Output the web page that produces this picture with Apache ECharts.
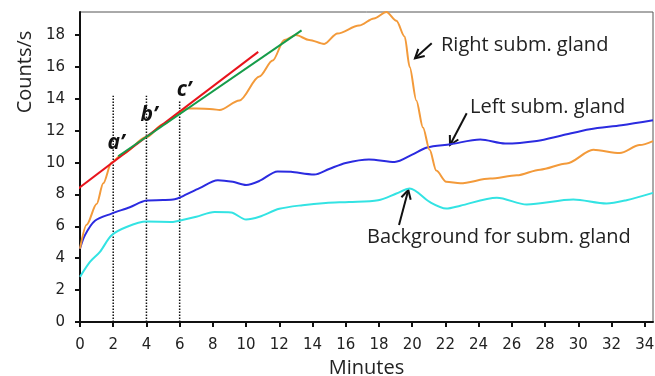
<!DOCTYPE html>
<html>
<head>
<meta charset="utf-8">
<script src="https://cdn.jsdelivr.net/npm/echarts@6/dist/echarts.min.js"></script>
<style>
  html, body { margin: 0; padding: 0; background: #fff; }
  #chart { width: 655px; height: 376px; }
</style>
</head>
<body>
<div id="chart"></div>
<script>
// counts/s against minutes as [min, value]
const rightGland = [
  [0, 4.6], [0.4, 6.1], [1.0, 7.4], [1.4, 8.7], [1.9, 10.0], [2.5, 10.5], [4, 11.6],
  [5, 12.4], [6, 13.1], [6.4, 13.4], [7, 13.4], [8, 13.35], [8.4, 13.3], [9.6, 13.9],
  [10.8, 15.4], [11.6, 16.4], [12.3, 17.7], [13.0, 18.0], [13.8, 17.7], [14.7, 17.45],
  [15.5, 18.1], [16.8, 18.6], [17.7, 19.05], [18.45, 19.45], [19.05, 18.9], [19.55, 17.9],
  [19.85, 16.0], [20.25, 13.9], [20.65, 12.2], [21.05, 10.8], [21.45, 9.5], [22.05, 8.8],
  [22.9, 8.7], [24.7, 9.0], [26.3, 9.2], [27.7, 9.56], [29.3, 9.95], [30.9, 10.8],
  [32.5, 10.6], [33.7, 11.1], [34.5, 11.35]
];
const leftGland = [
  [0, 4.6], [0.3, 5.45], [0.9, 6.35], [1.9, 6.8], [3, 7.2], [4, 7.62], [5, 7.65],
  [5.7, 7.7], [6.1, 7.85], [7.2, 8.4], [8.3, 8.9], [9.2, 8.8], [10, 8.6], [10.8, 8.85],
  [11.9, 9.45], [12.7, 9.42], [14.1, 9.25], [15, 9.6], [16, 9.98], [17.4, 10.2],
  [18.95, 10.04], [20, 10.5], [20.9, 10.95], [22.3, 11.15], [24.1, 11.45], [25.6, 11.2],
  [27.5, 11.36], [29, 11.7], [30.7, 12.1], [32.6, 12.35], [34.5, 12.66]
];
const background = [
  [0, 2.83], [0.6, 3.77], [1.2, 4.4], [1.9, 5.44], [2.8, 5.96], [4, 6.3], [5.6, 6.28],
  [6.1, 6.38], [7, 6.6], [8.1, 6.9], [9.1, 6.87], [10, 6.43], [10.8, 6.6], [12, 7.1],
  [13.4, 7.33], [14.8, 7.47], [16.2, 7.53], [17.95, 7.64], [19.05, 8.06], [19.85, 8.37],
  [21.05, 7.53], [22.05, 7.12], [22.9, 7.3], [25.1, 7.8], [26.9, 7.37], [29.7, 7.68],
  [31.7, 7.43], [32.9, 7.64], [34.5, 8.1]
];
// fitted slopes
const redFit = [[-0.15, 8.33], [10.73, 16.95]];
const greenFit = [[2.3, 10.4], [13.34, 18.3]];
// dotted markers a', b', c'
const markTimes = [2, 4, 6];
const markTops = [14.2, 14.2, 13.9];

const chart = echarts.init(document.getElementById("chart"));

// small open arrow: line plus a chevron at the tip
function arrow(x1, y1, x2, y2) {
  const a = Math.atan2(y2 - y1, x2 - x1);
  const len = 10;
  const sp = 0.5;
  const p1 = [x2 - len * Math.cos(a - sp), y2 - len * Math.sin(a - sp)];
  const p2 = [x2 - len * Math.cos(a + sp), y2 - len * Math.sin(a + sp)];
  return [
    { type: "line", shape: { x1: x1, y1: y1, x2: x2, y2: y2 }, style: { stroke: "#111", lineWidth: 2 } },
    { type: "polyline", shape: { points: [p1, [x2, y2], p2] }, style: { stroke: "#111", lineWidth: 2, fill: null } },
  ];
}

const labelFont = "'Open Sans', sans-serif";
const tickStyle = { color: "#222", fontFamily: "'DejaVu Sans', sans-serif", fontSize: 15 };

const dotSeries = markTimes.map((t, i) => ({
  type: "line",
  data: [[t, 0], [t, markTops[i]]],
  showSymbol: false,
  silent: true,
  lineStyle: { color: "#111", width: 1.5, type: [1.5, 1.5] },
  z: 1,
}));

const option = {
  animation: false,
  grid: {
    left: 80, right: 2, top: 12, bottom: 54,
    outerBoundsMode: "none",
    show: true, borderColor: "#555", borderWidth: 1,
  },
  xAxis: {
    type: "value",
    min: 0, max: 34.5, interval: 2,
    name: "Minutes",
    nameLocation: "middle",
    nameGap: 33,
    nameTextStyle: { fontFamily: labelFont, fontSize: 20, color: "#222" },
    axisLine: { show: true, lineStyle: { color: "#111", width: 2 } },
    axisTick: { show: true, length: 5, lineStyle: { color: "#111", width: 2 } },
    axisLabel: { ...tickStyle, margin: 16, showMaxLabel: false },
    splitLine: { show: false },
  },
  yAxis: {
    type: "value",
    min: 0, max: 19.45, interval: 2,
    axisLine: { show: true, lineStyle: { color: "#111", width: 2 } },
    axisTick: { show: true, length: 5, lineStyle: { color: "#111", width: 2 } },
    axisLabel: { ...tickStyle, margin: 15, showMaxLabel: false },
    splitLine: { show: false },
  },
  series: [
    ...dotSeries,
    {
      name: "Background for subm. gland",
      type: "line",
      data: background,
      showSymbol: false,
      smooth: 0.3,
      lineStyle: { color: "#33e3e3", width: 2 },
      z: 3,
    },
    {
      name: "Left subm. gland",
      type: "line",
      data: leftGland,
      showSymbol: false,
      smooth: 0.3,
      lineStyle: { color: "#2b2be0", width: 2 },
      z: 3,
    },
    {
      name: "Right subm. gland",
      type: "line",
      data: rightGland,
      showSymbol: false,
      smooth: 0.3,
      smoothMonotone: "x",
      lineStyle: { color: "#f39a3a", width: 2 },
      z: 3,
    },
    {
      type: "line",
      data: redFit,
      showSymbol: false,
      clip: false,
      lineStyle: { color: "#e8141c", width: 2 },
      z: 4,
    },
    {
      type: "line",
      data: greenFit,
      showSymbol: false,
      lineStyle: { color: "#169c4a", width: 2 },
      z: 5,
    },
  ],
  graphic: [
    {
      type: "text", x: 25, y: 72, rotation: Math.PI / 2,
      style: { text: "Counts/s", font: "20px " + labelFont, fill: "#222", textAlign: "center", textVerticalAlign: "middle" },
    },
    { type: "text", x: 116, y: 143, style: { text: "a’", font: "italic bold 21px " + labelFont, fill: "#111", textAlign: "center", textVerticalAlign: "middle" } },
    { type: "text", x: 149, y: 115, style: { text: "b’", font: "italic bold 21px " + labelFont, fill: "#111", textAlign: "center", textVerticalAlign: "middle" } },
    { type: "text", x: 184, y: 90, style: { text: "c’", font: "italic bold 21px " + labelFont, fill: "#111", textAlign: "center", textVerticalAlign: "middle" } },
    { type: "text", x: 441, y: 45, style: { text: "Right subm. gland", font: "20px " + labelFont, fill: "#222", textVerticalAlign: "middle" } },
    { type: "text", x: 470, y: 107, style: { text: "Left subm. gland", font: "20px " + labelFont, fill: "#222", textVerticalAlign: "middle" } },
    { type: "text", x: 367, y: 237, style: { text: "Background for subm. gland", font: "20px " + labelFont, fill: "#222", textVerticalAlign: "middle" } },
    ...arrow(431.7, 43.3, 415, 58.3),
    ...arrow(466.7, 113.3, 450, 145),
    ...arrow(399, 225, 408.3, 190),
  ],
};

chart.setOption(option);
</script>
</body>
</html>
